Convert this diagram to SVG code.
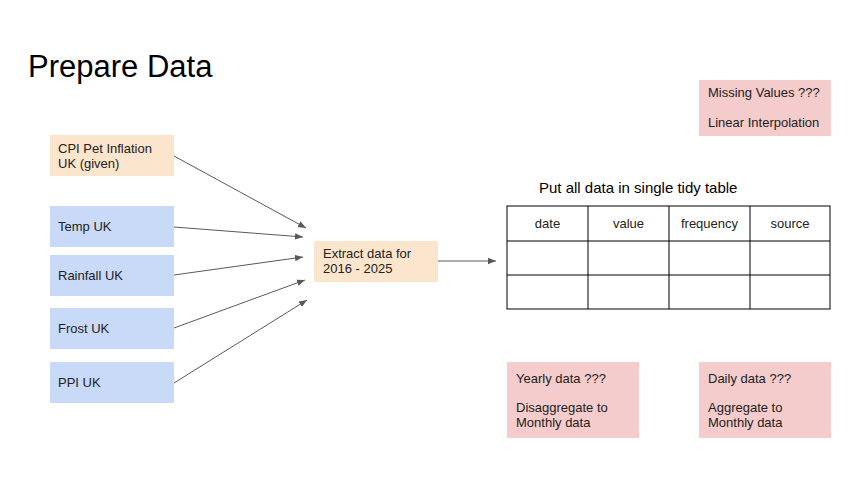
<svg xmlns="http://www.w3.org/2000/svg" width="868" height="490" viewBox="0 0 868 490">
<style>
text{font-family:"Liberation Sans",Arial,sans-serif;fill:#222;}
.t{font-size:13px;}
.or{fill:#fce5cd;}
.bl{fill:#c9daf8;}
.pk{fill:#f4cccc;}
.c{stroke:#595959;stroke-width:1;fill:none;marker-end:url(#ah);}
.g{stroke:#000;stroke-width:1;fill:none;}
</style>
<defs>
<marker id="ah" viewBox="0 0 10 10" refX="10" refY="5" markerWidth="8" markerHeight="8" markerUnits="userSpaceOnUse" orient="auto">
<path d="M0,1 L10,5 L0,9 Z" fill="#595959"/>
</marker>
</defs>
<rect width="868" height="490" fill="#fff"/>
<text x="28" y="77" style="font-size:31px;fill:#000">Prepare Data</text>
<g id="cpi"><rect class="or" x="50" y="135" width="124" height="41"/><text class="t" x="58" y="153">CPI Pet Inflation</text><text class="t" x="58" y="168">UK (given)</text></g>
<g id="temp"><rect class="bl" x="50" y="206" width="124" height="41"/><text class="t" x="58" y="231">Temp UK</text></g>
<g id="rain"><rect class="bl" x="50" y="255" width="124" height="41"/><text class="t" x="58" y="280">Rainfall UK</text></g>
<g id="frost"><rect class="bl" x="50" y="308" width="124" height="41"/><text class="t" x="58" y="333">Frost UK</text></g>
<g id="ppi"><rect class="bl" x="50" y="362" width="124" height="41"/><text class="t" x="58" y="387">PPI UK</text></g>
<g id="extract"><rect class="or" x="314" y="241" width="124" height="41"/><text class="t" x="323" y="258">Extract data for</text><text class="t" x="323" y="273">2016 - 2025</text></g>
<g id="connectors">
<line class="c" x1="174" y1="156" x2="306" y2="228"/>
<line class="c" x1="174" y1="227" x2="303" y2="237"/>
<line class="c" x1="174" y1="275" x2="303" y2="257"/>
<line class="c" x1="174" y1="328" x2="305" y2="280"/>
<line class="c" x1="174" y1="383" x2="307" y2="300"/>
<line class="c" x1="438" y1="261" x2="496" y2="261"/>
</g>
<g id="table">
<text x="539" y="193" style="font-size:15px;fill:#000">Put all data in single tidy table</text>
<rect class="g" x="507" y="206" width="323" height="103"/>
<line class="g" x1="507" y1="241" x2="830" y2="241"/>
<line class="g" x1="507" y1="275" x2="830" y2="275"/>
<line class="g" x1="588" y1="206" x2="588" y2="309"/>
<line class="g" x1="669" y1="206" x2="669" y2="309"/>
<line class="g" x1="750" y1="206" x2="750" y2="309"/>
<text class="t" x="547.5" y="228" text-anchor="middle">date</text>
<text class="t" x="628.5" y="228" text-anchor="middle">value</text>
<text class="t" x="709.5" y="228" text-anchor="middle">frequency</text>
<text class="t" x="790" y="228" text-anchor="middle">source</text>
</g>
<g id="missing"><rect class="pk" x="699" y="80" width="132" height="56"/><text class="t" x="708" y="97">Missing Values ???</text><text class="t" x="708" y="127">Linear Interpolation</text></g>
<g id="yearly"><rect class="pk" x="507" y="362" width="132" height="76"/><text class="t" x="516" y="383">Yearly data ???</text><text class="t" x="516" y="412">Disaggregate to</text><text class="t" x="516" y="427">Monthly data</text></g>
<g id="daily"><rect class="pk" x="699" y="362" width="132" height="76"/><text class="t" x="708" y="383">Daily data ???</text><text class="t" x="708" y="412">Aggregate to</text><text class="t" x="708" y="427">Monthly data</text></g>
</svg>
